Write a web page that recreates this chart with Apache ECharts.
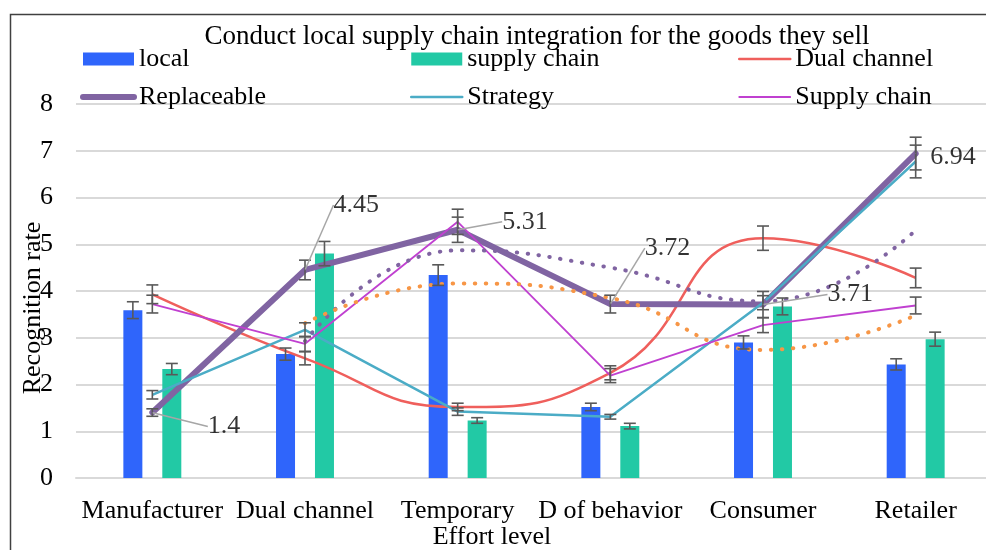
<!DOCTYPE html>
<html>
<head>
<meta charset="utf-8">
<script src="https://cdn.jsdelivr.net/npm/echarts@6/dist/echarts.min.js"></script>
<style>
  html, body { margin: 0; padding: 0; background: #fff; }
  #main { width: 986px; height: 550px; }
</style>
</head>
<body>
<div id="main"></div>
<script>
// categories and values
const categories = ["Manufacturer", "Dual channel", "Temporary", "D of behavior", "Consumer", "Retailer"];
const localValues = [3.59, 2.65, 4.34, 1.52, 2.90, 2.43];
const supplyChainBars = [2.33, 4.80, 1.23, 1.11, 3.67, 2.97];
const dualChannel = [3.93, 2.56, 1.52, 2.25, 5.13, 4.28];
const replaceable = [1.4, 4.45, 5.31, 3.72, 3.71, 6.94];
const strategy = [1.78, 3.17, 1.42, 1.31, 3.75, 6.77];
const supplyChainLine = [3.72, 2.87, 5.48, 2.19, 3.27, 3.69];
// dotted trend lines (start at the second category)
const replaceableTrend = [null, 2.93, 4.87, 4.5, 3.78, 5.3];
const supplyChainTrend = [null, 3.31, 4.16, 3.85, 2.74, 3.48];

// error amounts (+/-)
const localErr = [0.18, 0.13, 0.22, 0.08, 0.14, 0.12];
const supplyChainBarErr = [0.12, 0.26, 0.06, 0.06, 0.18, 0.15];
const dualChannelErr = [0.2, 0.14, 0.08, 0.15, 0.26, 0.21];
const replaceableErr = [0.08, 0.21, 0.27, 0.19, 0.28, 0.35];
const strategyErr = [0.09, 0.15, 0.08, 0.05, 0.15, 0.35];
const supplyChainLineErr = [0.19, 0.16, 0.27, 0.15, 0.16, 0.18];

const yTicks = [0, 8, 1]; // min, max, interval

const FONT = "'Liberation Serif', 'Times New Roman', serif";
const BAR_W = 19;
const BAR_GAP = 1.05;
const barShift = (BAR_W + BAR_W * BAR_GAP) / 2;

function errData(values, errs) {
  return values.map((v, i) => [i, v - errs[i], v + errs[i]]);
}

function errorSeries(values, errs, shift) {
  return {
    type: "custom",
    z: 10,
    silent: true,
    data: errData(values, errs),
    renderItem(params, api) {
      const lo = api.coord([api.value(0), api.value(1)]);
      const hi = api.coord([api.value(0), api.value(2)]);
      const x = lo[0] + shift;
      const cap = 6;
      const style = { stroke: "#595959", lineWidth: 1.6 };
      return {
        type: "group",
        children: [
          { type: "line", shape: { x1: x, y1: lo[1], x2: x, y2: hi[1] }, style },
          { type: "line", shape: { x1: x - cap, y1: lo[1], x2: x + cap, y2: lo[1] }, style },
          { type: "line", shape: { x1: x - cap, y1: hi[1], x2: x + cap, y2: hi[1] }, style },
        ],
      };
    },
  };
}

// label offsets for the Replaceable values
const labelOffsets = [[50, 14], [23, -65], [39, -8], [29, -56], [59, -10], [9, 4]];

const chart = echarts.init(document.getElementById("main"));

const legendText = { fontFamily: FONT, fontSize: 26, color: "#000", lineHeight: 26 };
function legendCol(left, names) {
  return {
    orient: "vertical",
    left,
    top: 46,
    padding: 0,
    itemWidth: 51,
    itemHeight: 13,
    itemGap: 12,
    textStyle: legendText,
    data: names,
  };
}
function lineItem(name, width) {
  return { name, itemStyle: { opacity: 0 }, lineStyle: { width, cap: "round" } };
}

chart.setOption({
  animation: false,
  backgroundColor: "#fff",
  title: {
    text: "Conduct local supply chain integration for the goods they sell",
    left: 532,
    textAlign: "center",
    top: 18,
    textStyle: { fontFamily: FONT, fontSize: 27, fontWeight: "normal", color: "#000" },
  },
  graphic: [
    {
      type: "rect",
      left: 8,
      top: 12,
      z: -10,
      shape: { width: 1100, height: 700 },
      style: { fill: "none", stroke: "#404040", lineWidth: 1.5 },
    },
  ],
  legend: [
    legendCol(80, [{ name: "local", icon: "rect" }, lineItem("Replaceable", 6)]),
    legendCol(410, [{ name: "supply chain", icon: "rect" }, lineItem("Strategy", 2.5)]),
    legendCol(738, [lineItem("Dual channel", 2.5), lineItem("Supply chain", 1.8)]),
  ],
  grid: { left: 76, top: 104, width: 916, height: 374, outerBoundsMode: "none" },
  xAxis: {
    type: "category",
    data: categories,
    name: "Effort level",
    nameLocation: "middle",
    nameGap: 46,
    nameMoveOverlap: false,
    nameTextStyle: { fontFamily: FONT, fontSize: 26, color: "#000", padding: [0, 84, 0, 0] },
    axisLine: { lineStyle: { color: "#d9d9d9", width: 2 } },
    axisTick: { show: false },
    axisLabel: { fontFamily: FONT, fontSize: 26, color: "#000", margin: 20, interval: 0 },
  },
  yAxis: {
    type: "value",
    min: yTicks[0],
    max: yTicks[1],
    interval: yTicks[2],
    name: "Recognition rate",
    nameLocation: "middle",
    nameGap: 30,
    nameMoveOverlap: false,
    nameTextStyle: { fontFamily: FONT, fontSize: 26, color: "#000", padding: [0, 34, 0, 0] },
    axisLine: { show: false },
    axisTick: { show: false },
    axisLabel: { fontFamily: FONT, fontSize: 26, color: "#000", margin: 23 },
    splitLine: { lineStyle: { color: "#d9d9d9", width: 2 } },
  },
  series: [
    {
      name: "local",
      type: "bar",
      data: localValues,
      barWidth: BAR_W,
      barGap: BAR_GAP * 100 + "%",
      itemStyle: { color: "#2f65fb" },
    },
    {
      name: "supply chain",
      type: "bar",
      data: supplyChainBars,
      barWidth: BAR_W,
      itemStyle: { color: "#22c9a5" },
    },
    {
      name: "Dual channel",
      type: "line",
      data: dualChannel,
      smooth: 0.5,
      symbol: "none",
      lineStyle: { color: "#ef5f5c", width: 2.5 },
      itemStyle: { color: "#ef5f5c" },
    },
    {
      name: "Replaceable",
      type: "line",
      data: replaceable,
      symbol: "none",
      lineStyle: { color: "#8064a2", width: 6, cap: "round", join: "round" },
      itemStyle: { color: "#8064a2" },
    },
    {
      name: "Strategy",
      type: "line",
      data: strategy,
      symbol: "none",
      lineStyle: { color: "#4bacc6", width: 2.5 },
      itemStyle: { color: "#4bacc6" },
    },
    {
      name: "Supply chain",
      type: "line",
      data: supplyChainLine,
      symbol: "none",
      lineStyle: { color: "#c040d0", width: 1.8 },
      itemStyle: { color: "#c040d0" },
    },
    {
      name: "trend-replaceable",
      type: "line",
      data: replaceableTrend,
      smooth: 0.5,
      symbol: "none",
      lineStyle: { color: "#8064a2", width: 4, type: [0.5, 10.5], cap: "round" },
    },
    {
      name: "trend-supply",
      type: "line",
      data: supplyChainTrend,
      smooth: 0.5,
      symbol: "none",
      lineStyle: { color: "#f79646", width: 4, type: [0.5, 10.5], cap: "round" },
    },
    errorSeries(localValues, localErr, -barShift),
    errorSeries(supplyChainBars, supplyChainBarErr, barShift),
    errorSeries(dualChannel, dualChannelErr, 0),
    errorSeries(replaceable, replaceableErr, 0),
    errorSeries(strategy, strategyErr, 0),
    errorSeries(supplyChainLine, supplyChainLineErr, 0),
    {
      name: "replaceable-labels",
      type: "scatter",
      z: 12,
      data: replaceable.map((v, i) =>
        i === replaceable.length - 1
          ? { value: [categories[i], v], labelLine: { show: false } }
          : [categories[i], v]
      ),
      symbolSize: 1,
      itemStyle: { color: "#8064a2" },
      label: {
        show: true,
        position: "right",
        distance: 5,
        fontFamily: FONT,
        fontSize: 26,
        color: "#000",
      },
      labelLine: { show: true, lineStyle: { color: "#a6a6a6", width: 1.5 } },
      labelLayout(params) {
        const o = labelOffsets[params.dataIndex];
        return { dx: o[0], dy: o[1] };
      },
    },
  ],
});
</script>
</body>
</html>
